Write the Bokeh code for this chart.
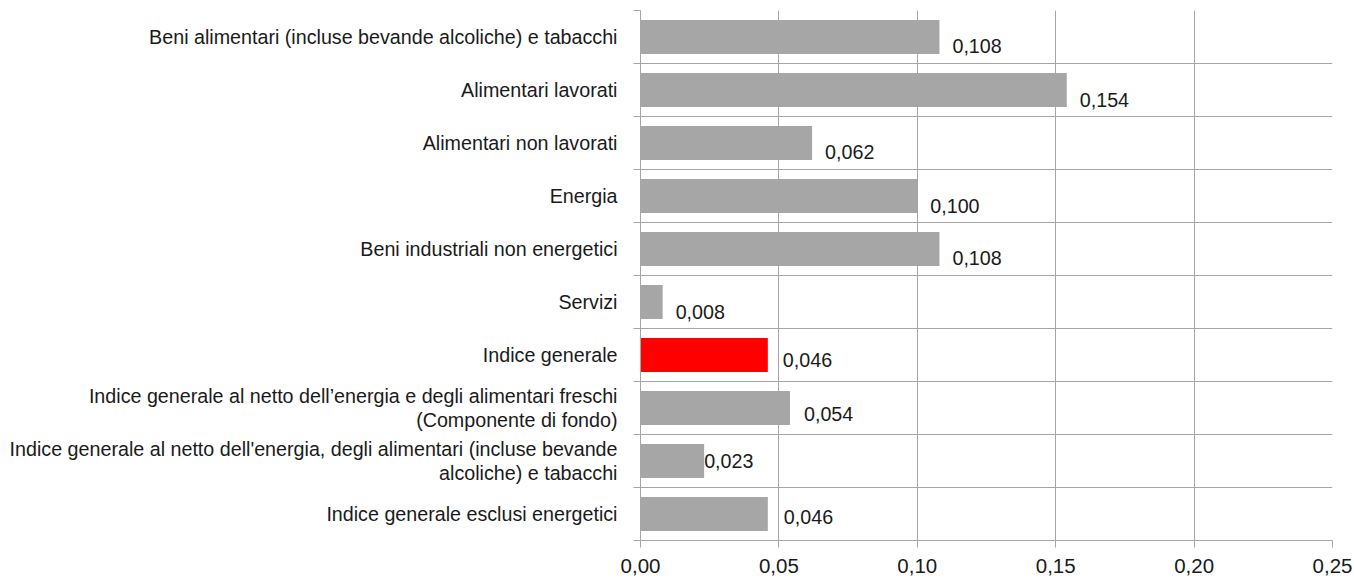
from bokeh.plotting import figure
from bokeh.models import (Range1d, LinearAxis, FixedTicker, CustomJSTickFormatter,
                          ColumnDataSource)
from bokeh.core.properties import value
from bokeh.embed import file_html
from bokeh.resources import INLINE

# ---- data ----
categories = [
    "Beni alimentari (incluse bevande alcoliche) e tabacchi",
    "Alimentari lavorati",
    "Alimentari non lavorati",
    "Energia",
    "Beni industriali non energetici",
    "Servizi",
    "Indice generale",
    "Indice generale al netto dell\u2019energia e degli alimentari freschi\n(Componente di fondo)",
    "Indice generale al netto dell'energia, degli alimentari (incluse bevande\nalcoliche) e tabacchi",
    "Indice generale esclusi energetici",
]
values = [0.108, 0.154, 0.062, 0.100, 0.108, 0.008, 0.046, 0.054, 0.023, 0.046]
highlight = "Indice generale"
x_ticks = [0.00, 0.05, 0.10, 0.15, 0.20, 0.25]

# ---- style ----
FONT = "Liberation Sans"
FS = "19.7px"
FS_X = "20.5px"
GRID = "#a6a6a6"
BAR = "#a6a6a6"
RED = "#ff0000"
TXT = "#1a1a1a"
label_dx = [13, 13, 13, 13, 13, 13, 15, 14, 0, 16]
label_dy = [9, 10, 9, 10, 9, 10, 5, 6, 0, 3]

n = len(categories)
pos = [n - i - 0.5 for i in range(n)]          # slot centres, top to bottom
bounds = list(range(n + 1))                     # slot boundaries
labels = [("%.3f" % v).replace(".", ",") for v in values]
colors = [RED if c == highlight else BAR for c in categories]

src = ColumnDataSource(dict(pos=pos, val=values, col=colors, lab=labels,
                            dx=label_dx, dy=label_dy))

p = figure(width=1354, height=582, output_backend="svg", toolbar_location=None,
           y_range=Range1d(0, n), x_range=Range1d(0, 0.25),
           min_border_left=640, min_border_right=22, min_border_top=10,
           min_border_bottom=42)
p.outline_line_color = None
p.background_fill_color = "white"

p.hbar(y="pos", right="val", left=0, height=0.64, fill_color="col",
       line_color=None, source=src)
p.text(x="val", y="pos", text="lab", x_offset="dx", y_offset="dy",
       text_font=value(FONT), text_font_size=FS, text_color=TXT,
       text_baseline="middle", text_align="left", source=src)

# x axis
xa = p.xaxis[0]
xa.ticker = FixedTicker(ticks=x_ticks)
xa.formatter = CustomJSTickFormatter(code="return tick.toFixed(2).replace('.', ',');")
xa.major_label_text_font = FONT
xa.major_label_text_font_size = FS_X
xa.major_label_text_color = TXT
xa.axis_line_color = GRID
xa.major_tick_line_color = GRID
xa.major_tick_out = 7
xa.major_tick_in = 0
xa.minor_tick_line_color = None
xa.major_label_standoff = 11
p.xgrid.ticker = FixedTicker(ticks=x_ticks)
p.xgrid.grid_line_color = GRID

# y axis: boundary ticks + horizontal grid (no labels)
ya = p.yaxis[0]
ya.ticker = FixedTicker(ticks=bounds)
ya.formatter = CustomJSTickFormatter(code="return '';")
ya.major_label_standoff = 0
ya.major_tick_out = 7
ya.major_tick_in = 0
ya.minor_tick_line_color = None
ya.axis_line_color = GRID
ya.major_tick_line_color = GRID
p.ygrid.ticker = FixedTicker(ticks=bounds)
p.ygrid.grid_line_color = GRID

# category labels at slot centres
lab_axis = LinearAxis(ticker=FixedTicker(ticks=pos),
                      formatter=CustomJSTickFormatter(
                          args=dict(names=categories, n=n),
                          code="return names[Math.round(n - 0.5 - tick)];"),
                      major_tick_line_color=None, minor_tick_line_color=None,
                      axis_line_color=None, major_label_standoff=10,
                      major_label_text_font=FONT, major_label_text_font_size=FS,
                      major_label_text_color=TXT, major_label_text_line_height=1.12)
p.add_layout(lab_axis, "left")

open("out.html", "w").write(file_html(p, INLINE))
